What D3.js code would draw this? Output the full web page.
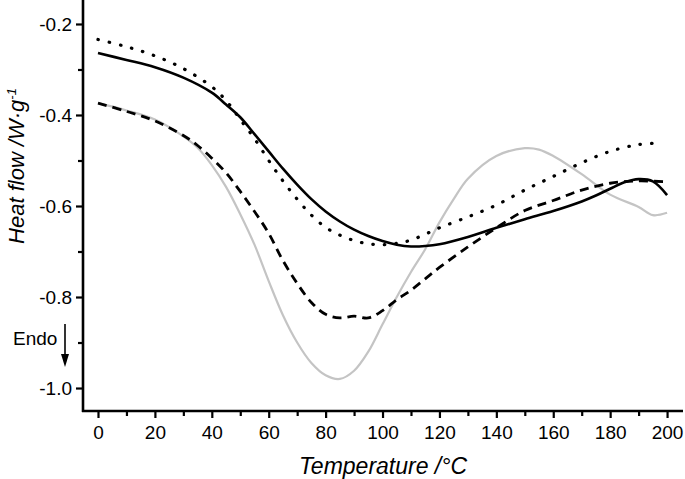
<!DOCTYPE html>
<html>
<head>
<meta charset="utf-8">
<script src="https://cdn.jsdelivr.net/npm/d3@7"></script>
<style>
  html, body { margin: 0; padding: 0; background: #fff; }
  svg { display: block; }
  text { font-family: "Liberation Sans", Arial, sans-serif; fill: #000; }
</style>
</head>
<body>
<svg id="chart" width="685" height="479"></svg>
<script>
// ---- data ----
const xTicks = [0, 20, 40, 60, 80, 100, 120, 140, 160, 180, 200];
const yTicks = [-0.2, -0.4, -0.6, -0.8, -1.0];
const yTickLabels = ["-0.2", "-0.4", "-0.6", "-0.8", "-1.0"];

const solidT = [0, 10, 20, 30, 40, 45, 50, 55, 60, 65, 70, 75, 80, 85, 90, 95, 100, 105, 110, 115, 120, 130, 140, 150, 160, 170, 175, 180, 185, 190, 195, 200];
const solidH = [-0.264, -0.279, -0.295, -0.318, -0.351, -0.377, -0.405, -0.442, -0.480, -0.518, -0.553, -0.585, -0.612, -0.634, -0.652, -0.666, -0.677, -0.685, -0.689, -0.688, -0.684, -0.668, -0.648, -0.629, -0.611, -0.590, -0.577, -0.562, -0.548, -0.541, -0.546, -0.576];

const dottedT = [0, 10, 20, 30, 40, 45, 50, 55, 60, 65, 70, 75, 80, 85, 90, 95, 100, 105, 110, 115, 120, 130, 140, 150, 160, 170, 180, 190, 197];
const dottedH = [-0.234, -0.250, -0.270, -0.298, -0.338, -0.368, -0.410, -0.452, -0.500, -0.545, -0.585, -0.620, -0.647, -0.664, -0.676, -0.683, -0.685, -0.682, -0.675, -0.662, -0.648, -0.624, -0.598, -0.565, -0.535, -0.505, -0.480, -0.465, -0.462];

const dashedT = [0, 10, 20, 30, 35, 40, 45, 50, 55, 60, 65, 70, 75, 80, 85, 90, 95, 100, 105, 110, 115, 120, 130, 140, 150, 160, 170, 180, 190, 200];
const dashedH = [-0.374, -0.392, -0.413, -0.445, -0.467, -0.495, -0.527, -0.568, -0.612, -0.660, -0.720, -0.770, -0.812, -0.838, -0.846, -0.842, -0.846, -0.830, -0.806, -0.785, -0.760, -0.735, -0.690, -0.648, -0.610, -0.588, -0.565, -0.550, -0.545, -0.547];

const greyT = [0, 10, 20, 30, 35, 40, 45, 50, 55, 60, 65, 70, 75, 80, 85, 90, 95, 100, 105, 110, 115, 120, 125, 130, 140, 150, 155, 160, 170, 180, 190, 195, 200];
const greyH = [-0.374, -0.390, -0.410, -0.447, -0.472, -0.510, -0.558, -0.618, -0.685, -0.765, -0.840, -0.900, -0.945, -0.972, -0.980, -0.962, -0.920, -0.860, -0.800, -0.745, -0.695, -0.636, -0.585, -0.540, -0.490, -0.473, -0.476, -0.490, -0.530, -0.575, -0.602, -0.620, -0.615];

// ---- layout ----
const svg = d3.select("#chart");
const plotL = 83, plotR = 683, plotT = 0, plotB = 411;

const x = d3.scaleLinear().domain([-5.27, 205.6]).range([plotL, plotR]);
const y = d3.scaleLinear().domain([-1.0505, -0.1473]).range([plotB, plotT]);

const line = (T, H) => d3.line().curve(d3.curveCatmullRom.alpha(0.5))
  .x((d, i) => x(T[i])).y((d, i) => y(H[i]))(T);

// series
svg.append("path").attr("d", line(greyT, greyH))
  .attr("fill", "none").attr("stroke", "#c4c4c4").attr("stroke-width", 2.2);
svg.append("path").attr("d", line(dashedT, dashedH))
  .attr("fill", "none").attr("stroke", "#000").attr("stroke-width", 2.8)
  .attr("stroke-dasharray", "9,6");
svg.append("path").attr("d", line(dottedT, dottedH))
  .attr("fill", "none").attr("stroke", "#000").attr("stroke-width", 3.2)
  .attr("stroke-linecap", "round").attr("stroke-dasharray", "0.5,11");
svg.append("path").attr("d", line(solidT, solidH))
  .attr("fill", "none").attr("stroke", "#000").attr("stroke-width", 2.6);

// axes
const xMinor = d3.range(10, 200, 20);
const yMinor = [-0.3, -0.5, -0.7, -0.9];

const xAxis = svg.append("g").attr("transform", `translate(0,${plotB})`)
  .call(d3.axisBottom(x).tickValues(xTicks).tickFormat(d3.format("d")).tickSize(7).tickPadding(8));
const xAxisMinor = svg.append("g").attr("transform", `translate(0,${plotB})`)
  .call(d3.axisBottom(x).tickValues(xMinor).tickFormat("").tickSize(5));
const yAxis = svg.append("g").attr("transform", `translate(${plotL},0)`)
  .call(d3.axisLeft(y).tickValues(yTicks).tickFormat((d, i) => yTickLabels[i]).tickSize(7).tickPadding(4));
const yAxisMinor = svg.append("g").attr("transform", `translate(${plotL},0)`)
  .call(d3.axisLeft(y).tickValues(yMinor).tickFormat("").tickSize(5));

[xAxis, xAxisMinor, yAxis, yAxisMinor].forEach(g => {
  g.select(".domain").attr("stroke", "#000").attr("stroke-width", 2.6);
  g.selectAll(".tick line").attr("stroke", "#000").attr("stroke-width", 2.2);
  g.selectAll(".tick text").style("font-size", "19px").style("font-family", "'Liberation Sans', Arial, sans-serif");
});
xAxis.select(".domain").attr("d", `M${plotL - 1},0H${plotR}`);
yAxis.select(".domain").attr("d", `M0,${plotT}V${plotB + 1}`);
xAxisMinor.select(".domain").remove();
yAxisMinor.select(".domain").remove();

// axis titles
svg.append("text").attr("x", 383).attr("y", 474)
  .attr("text-anchor", "middle").style("font-size", "23px").style("font-style", "italic")
  .text("Temperature /°C");

const yt = svg.append("text").attr("transform", "translate(24,166) rotate(-90)")
  .attr("text-anchor", "middle").style("font-size", "22px").style("font-style", "italic");
yt.append("tspan").text("Heat flow /W·g");
yt.append("tspan").attr("dy", -8).style("font-size", "13px").text("-1");

// Endo annotation
svg.append("text").attr("x", 13).attr("y", 345).style("font-size", "19px").text("Endo");
svg.append("line").attr("x1", 65).attr("y1", 324).attr("x2", 65).attr("y2", 356)
  .attr("stroke", "#000").attr("stroke-width", 1.6);
svg.append("path").attr("d", "M61,354 L69,354 L65,367 Z").attr("fill", "#000");
</script>
</body>
</html>
